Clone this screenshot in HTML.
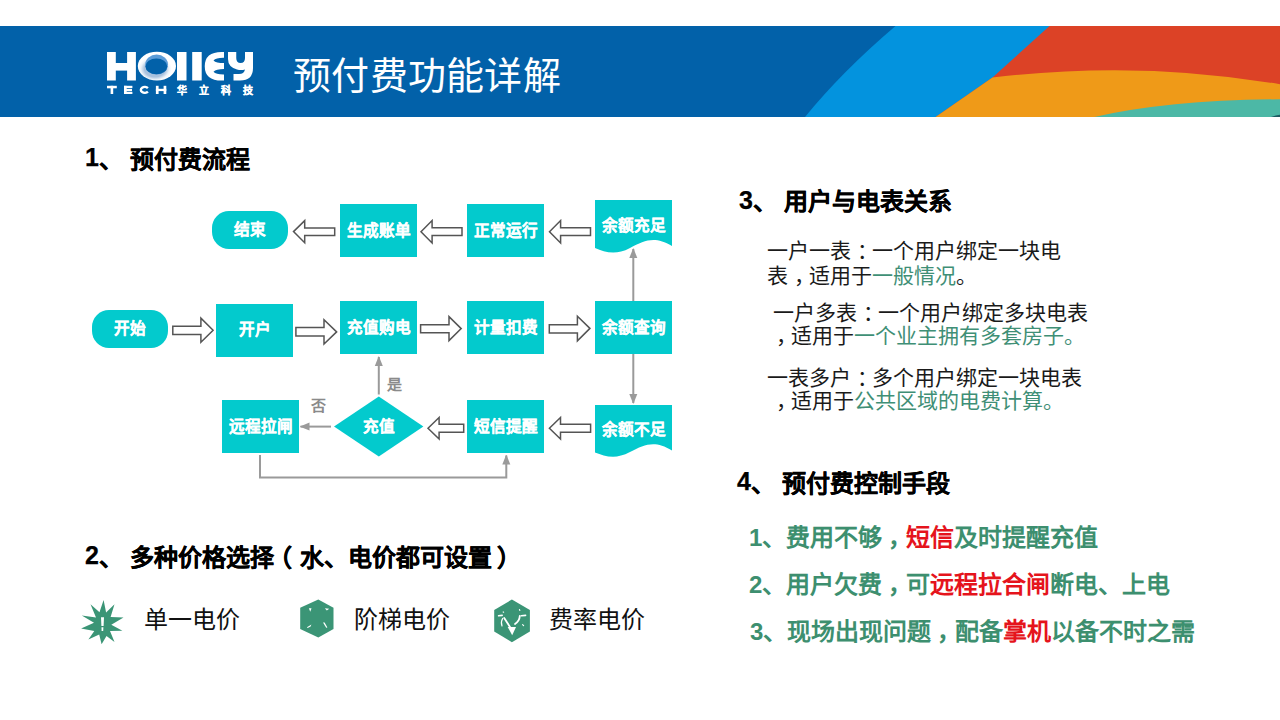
<!DOCTYPE html>
<html lang="zh-CN">
<head>
<meta charset="utf-8">
<style>
*{margin:0;padding:0;box-sizing:border-box}
html,body{width:1280px;height:720px;overflow:hidden;background:#fff}
body{position:relative;font-family:"Liberation Sans",sans-serif;color:#000}
.a{position:absolute;white-space:nowrap}
.h{font-size:24px;font-weight:bold;line-height:1;-webkit-text-stroke:0.25px #000}
.box{position:absolute;background:#03cacd;color:#fff;font-weight:bold;-webkit-text-stroke:0.2px #fff;font-size:15.6px;display:flex;align-items:center;justify-content:center;line-height:1}
.body{font-size:21px;line-height:1;color:#1a1a1a}
.g{color:#3f8f76}
.it{font-size:24px;font-weight:bold;color:#3d8f6f;line-height:1}
.r{color:#e5141c}
.p{position:relative;left:6px}
.d{font-size:25px;position:relative;top:-1.2px}
</style>
</head>
<body>
<!-- header -->
<svg class="a" style="left:0;top:26px" width="1280" height="91" viewBox="0 26 1280 91">
  <rect x="0" y="26" width="1280" height="91" fill="#0261a9"/>
  <path d="M805,117 Q842,71.5 895.5,26 L1280,26 L1280,117 Z" fill="#0393de"/>
  <path d="M1049.5,26 L1280,26 L1280,117 L935.6,117 L992.5,77.4 Z" fill="#dc4226"/>
  <path d="M935.6,117 L992.5,77.4 Q1140,60 1280,84.3 L1280,117 Z" fill="#ef9a18"/>
  <path d="M1094.4,117 Q1170,100 1280,99.3 L1280,117 Z" fill="#4cb8a6"/>
  <path d="M1271,117 Q1276,115 1280,114.8 L1280,117 Z" fill="#1d5a62"/>
</svg>
<!-- logo -->
<svg class="a" style="left:100px;top:45px" width="160" height="55" viewBox="100 45 160 55">
  <defs>
    <radialGradient id="og" cx="0.45" cy="0.6" r="0.55">
      <stop offset="0.5" stop-color="#a9c2de"/>
      <stop offset="0.68" stop-color="#eef4fa"/>
      <stop offset="0.8" stop-color="#fff"/>
    </radialGradient>
  </defs>
  <g fill="#fff">
    <rect x="107" y="52" width="8.8" height="28.5"/>
    <rect x="127.1" y="52" width="8.8" height="28.5"/>
    <rect x="107" y="63" width="28" height="7.6"/>
  </g>
  <ellipse cx="156.9" cy="66.1" rx="19.1" ry="14.4" fill="url(#og)"/>
  <ellipse cx="156.6" cy="64.6" rx="11.4" ry="10" fill="#5b9cd8"/>
  <ellipse cx="156.4" cy="66.4" rx="10.9" ry="7.9" fill="#0261a9"/>
  <g fill="#fff">
    <rect x="177" y="52" width="9.5" height="28.5"/>
    <rect x="192.2" y="52" width="9.5" height="28.5"/>
    <path d="M224,52 V57.75 Q216,57.6 213.5,60.4 Q216,63 224,63 V69 Q216,69 213.5,71.8 Q216,74.6 224,74.5 V80.5 Q204.75,81.5 204.75,66.2 Q204.75,51 224,52 Z"/>
    <path d="M228,52 H236.25 V58 Q236.25,63 240.6,63 Q245,63 245,58 V52 H253 V68 Q253,80.5 240,80.5 H233.5 V74 H239 Q244,74 245,69.5 Q241,70.5 237,69.5 Q228,67 228,59 Z"/>
  </g>
  <g fill="#fff">
    <rect x="107" y="85.8" width="9.8" height="2.5"/>
    <rect x="110.6" y="85.8" width="2.6" height="8.2"/>
    <rect x="124" y="85.8" width="2.7" height="8.2"/>
    <rect x="124" y="85.8" width="8.4" height="2.3"/>
    <rect x="124" y="88.9" width="8" height="2.2"/>
    <rect x="124" y="91.8" width="8.4" height="2.2"/>
    <rect x="155.9" y="85.8" width="2.7" height="8.2"/>
    <rect x="163.6" y="85.8" width="2.7" height="8.2"/>
    <rect x="155.9" y="88.8" width="10.4" height="2.3"/>
  </g>
  <path d="M147.9,88.2 A3.9,2.9 0 1,0 147.9,91.6" fill="none" stroke="#fff" stroke-width="2.4"/>
  <g fill="#fff" stroke="#fff" stroke-width="0.3" font-weight="bold" font-size="10">
    <text x="176.5" y="94" textLength="76" lengthAdjust="spacing">华立科技</text>
  </g>
</svg>
<div class="a" style="left:293px;top:57px;font-size:38px;letter-spacing:0.3px;color:#fff;line-height:1">预付费功能详解</div>

<!-- section 1 -->
<div class="a h" style="left:85px;top:146.5px"><span class="d">1</span>、 预付费流程</div>

<!-- flowchart -->
<svg class="a" style="left:0;top:0" width="720" height="500" viewBox="0 0 720 500">
  <defs>
    <marker id="ah" markerWidth="10" markerHeight="10" refX="9" refY="5" orient="auto" markerUnits="userSpaceOnUse">
      <path d="M0,1 L10,5 L0,9 Z" fill="#9a9a9a"/>
    </marker>
  </defs>
  <g fill="#03cacd">
    <rect x="212" y="211" width="76" height="38" rx="17"/>
    <rect x="92" y="310" width="76" height="38" rx="17"/>
    <path d="M595,200 L672,200 L672,246 C655,236 645,240 630,248 C615,256 605,252 595,248 Z"/>
    <path d="M595,405 L672,405 L672,450.4 C655,440 645,444 630,452 C615,460 605,456 595,452.4 Z"/>
    <path d="M334,426.5 L378.8,396.6 L423.4,426.5 L378.8,456.5 Z"/>
  </g>
  <!-- outline arrows -->
  <g fill="#fff" stroke="#555" stroke-width="1.5" stroke-linejoin="miter">
    <!-- left arrows row1 -->
    <path d="M293.5,231.6 L304.7,220.6 L304.7,228.1 L334.7,228.1 L334.7,235.6 L304.7,235.6 L304.7,242.8 Z"/>
    <path d="M421,231.7 L432.1,220.5 L432.1,227.7 L462,227.7 L462,235.4 L432.1,235.4 L432.1,243 Z"/>
    <path d="M549.5,231.7 L560.6,220.5 L560.6,227.7 L590.5,227.7 L590.5,235.4 L560.6,235.4 L560.6,243 Z"/>
    <!-- right arrows row2 -->
    <path d="M213.1,330.3 L200.9,318.1 L200.9,326.2 L172.8,326.2 L172.8,334.4 L200.9,334.4 L200.9,342.2 Z"/>
    <path d="M336.6,331.9 L324,319.7 L324,327.5 L295.9,327.5 L295.9,335.9 L324,335.9 L324,344 Z"/>
    <path d="M461.2,328.6 L449,316.6 L449,324.7 L420.6,324.7 L420.6,332.8 L449,332.8 L449,340.6 Z"/>
    <path d="M589.9,328.4 L577.4,316.3 L577.4,324.7 L549.3,324.7 L549.3,333.1 L577.4,333.1 L577.4,340.9 Z"/>
    <!-- left arrows row3 -->
    <path d="M428,428.2 L439.1,417.5 L439.1,424.3 L463.7,424.3 L463.7,432.3 L439.1,432.3 L439.1,439 Z"/>
    <path d="M549.4,428.2 L560.5,417.5 L560.5,424.3 L590.6,424.3 L590.6,432.3 L560.5,432.3 L560.5,439 Z"/>
  </g>
  <!-- gray connectors -->
  <g stroke="#9a9a9a" stroke-width="2" fill="none">
    <line x1="633.3" y1="301" x2="633.3" y2="249" marker-end="url(#ah)"/>
    <line x1="633.3" y1="354" x2="633.3" y2="403" marker-end="url(#ah)"/>
    <line x1="378.8" y1="394.5" x2="378.8" y2="357" marker-end="url(#ah)"/>
    <line x1="331" y1="426.6" x2="300.5" y2="426.6" marker-end="url(#ah)"/>
    <polyline points="260,455 260,477.4 506.3,477.4 506.3,455.5" marker-end="url(#ah)"/>
  </g>
</svg>
<div class="box" style="left:212px;top:211px;width:76px;height:38px;background:none">结束</div>
<div class="box" style="left:340px;top:204px;width:77px;height:53px">生成账单</div>
<div class="box" style="left:467px;top:204px;width:77px;height:53px">正常运行</div>
<div class="box" style="left:595px;top:212px;width:77px;height:28px;background:none">余额充足</div>
<div class="box" style="left:92px;top:310px;width:76px;height:38px;background:none">开始</div>
<div class="box" style="left:216px;top:303.6px;width:77px;height:53px">开户</div>
<div class="box" style="left:340px;top:301.3px;width:77px;height:52.7px">充值购电</div>
<div class="box" style="left:467px;top:301.3px;width:77px;height:52.7px">计量扣费</div>
<div class="box" style="left:595px;top:301.3px;width:77px;height:52.7px">余额查询</div>
<div class="box" style="left:222px;top:400px;width:77px;height:53px">远程拉闸</div>
<div class="box" style="left:334px;top:412px;width:90px;height:30px;background:none">充值</div>
<div class="box" style="left:467px;top:400px;width:77px;height:53px">短信提醒</div>
<div class="box" style="left:595px;top:416px;width:77px;height:28px;background:none">余额不足</div>
<div class="a" style="left:310.5px;top:398px;font-size:15px;font-weight:bold;color:#8a8a8a;line-height:1">否</div>
<div class="a" style="left:387.3px;top:377.2px;font-size:15px;font-weight:bold;color:#8a8a8a;line-height:1">是</div>

<!-- section 2 -->
<div class="a h" style="left:85px;top:544.5px"><span class="d">2</span>、 多种价格选择<span style="position:relative;left:-5.6px;margin-right:2px">（</span>水、电价都可设置<span style="margin-left:5.5px">）</span></div>
<svg class="a" style="left:70px;top:590px" width="480" height="60" viewBox="70 590 480 60">
  <path fill="#3b9576" d="M103.6,600.1 L106.1,612.6 L114.5,604.3 L110.6,617.1 L123.5,617.5 L111.3,624.8 L122.4,630.7 L110,631 L114.5,642.1 L106.5,635.9 L101.6,644.2 L99.2,634.5 L88.4,639.4 L94.3,631 L81.1,628.6 L94,622.7 L81.8,615.4 L96,617.5 L90.5,604.3 L99.5,612.3 Z"/>
  <path fill="#fff" d="M101,617.2 L104,617.2 L103.6,626 L101.4,626 Z M101.5,627.2 L103.4,627.2 L103.2,631 L101.6,631 Z"/>
  <path fill="#3b9576" d="M318.3,599.5 L333.5,607.8 L333.5,629 L318.3,637.4 L300.2,629 L300.2,607.8 Z"/>
  <g fill="#fff">
    <path d="M308.9,608.2 L311.5,608.2 L310.2,611.8 Z"/>
    <path d="M324.9,608.3 L329.2,608.8 L326.8,610.6 Z"/>
    <path d="M307,627.2 L311.4,624.6 L310.6,626.4 L307.6,628 Z"/>
    <path d="M323,622.6 L324.6,622.4 L327.4,627.4 L326.2,627.8 Z"/>
  </g>
  <path fill="#3b9576" d="M511.9,599.5 L529.9,610 L529.9,631.5 L511.9,642.2 L494.2,631.5 L494.2,610 Z"/>
  <g fill="#fff">
    <path d="M507.7,627 L516,627 L512.2,635.3 Z"/>
  </g>
  <g stroke="#fff" fill="none" stroke-linecap="round">
    <path d="M504.2,618 L510,627" stroke-width="1.8"/>
    <path d="M502.6,618.5 Q500.5,622 502,626" stroke-width="1.2"/>
    <path d="M519.8,616 Q519.5,621 515,624" stroke-width="1.8"/>
    <path d="M498.6,615.8 L502.2,615.4" stroke-width="1.6"/>
    <path d="M521.4,615.8 L525.6,615.4" stroke-width="1.6"/>
    <path d="M503.2,612 L503.6,612.2" stroke-width="1.2"/>
    <path d="M519.5,609.6 L519.8,610.4" stroke-width="1.2"/>
    <path d="M522.6,624.6 L523.6,625.6" stroke-width="1.2"/>
  </g>
</svg>
<div class="a" style="left:144px;top:608px;font-size:24px;line-height:1;color:#111">单一电价</div>
<div class="a" style="left:354px;top:608px;font-size:24px;line-height:1;color:#111">阶梯电价</div>
<div class="a" style="left:549px;top:608px;font-size:24px;line-height:1;color:#111">费率电价</div>

<!-- section 3 -->
<div class="a h" style="left:739px;top:189.1px"><span class="d">3</span>、 用户与电表关系</div>
<div class="a body" style="left:767px;top:240px">一户一表<span class="p">：</span>一个用户绑定一块电</div>
<div class="a body" style="left:767px;top:265px">表<span class="p">，</span>适用于<span class="g">一般情况</span>。</div>
<div class="a body" style="left:773px;top:302px">一户多表<span class="p">：</span>一个用户绑定多块电表</div>
<div class="a body" style="left:770px;top:325px"><span class="p">，</span>适用于<span class="g">一个业主拥有多套房子。</span></div>
<div class="a body" style="left:767px;top:367px">一表多户<span class="p">：</span>多个用户绑定一块电表</div>
<div class="a body" style="left:770px;top:390px"><span class="p">，</span>适用于<span class="g">公共区域的电费计算。</span></div>

<!-- section 4 -->
<div class="a h" style="left:737px;top:471px"><span class="d" style="top:-2.2px">4</span>、 预付费控制手段</div>
<div class="a it" style="left:749px;top:526px">1、费用不够<span class="p">，</span><span class="r">短信</span>及时提醒充值</div>
<div class="a it" style="left:749px;top:573px">2、用户欠费<span class="p">，</span>可<span class="r">远程拉合闸</span>断电、上电</div>
<div class="a it" style="left:750px;top:620px">3、现场出现问题<span class="p">，</span>配备<span class="r">掌机</span>以备不时之需</div>
</body>
</html>
